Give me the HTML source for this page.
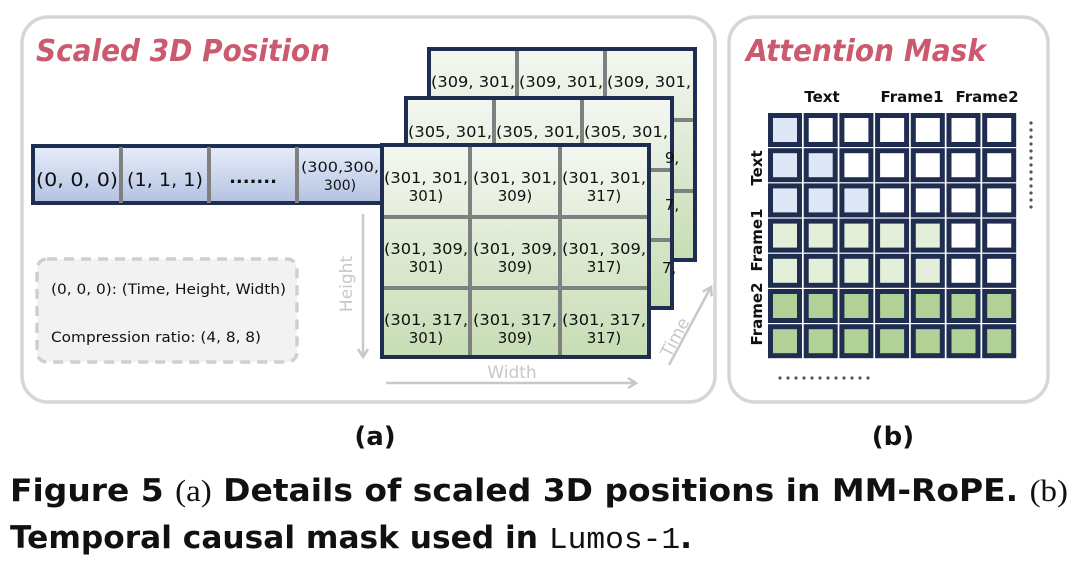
<!DOCTYPE html>
<html><head><meta charset="utf-8"><style>
html,body{margin:0;padding:0;background:#fff;}
svg{display:block;}
text{font-family:"DejaVu Sans","Liberation Sans",sans-serif;}
</style></head><body>
<svg width="1080" height="577" viewBox="0 0 1080 577" xmlns="http://www.w3.org/2000/svg">
<defs>
<linearGradient id="bl" x1="0" y1="0" x2="0" y2="1"><stop offset="0" stop-color="#e8eef9"/><stop offset="1" stop-color="#b2c2e2"/></linearGradient>
<linearGradient id="gr" x1="0" y1="0" x2="0" y2="1"><stop offset="0" stop-color="#f4f7f1"/><stop offset="1" stop-color="#c6ddb4"/></linearGradient>
<marker id="ah" markerWidth="12" markerHeight="12" refX="9" refY="6" orient="auto" markerUnits="userSpaceOnUse"><path d="M1,1 L9,6 L1,11" fill="none" stroke="#c8c8c8" stroke-width="2.5"/></marker>
</defs>
<rect x="22" y="17" width="693" height="385" rx="26" fill="#fff" stroke="#d6d6d6" stroke-width="3.5"/>
<rect x="729" y="17" width="319" height="385" rx="26" fill="#fff" stroke="#d6d6d6" stroke-width="3.5"/>
<text x="36" y="61" font-size="30" font-weight="bold" font-style="italic" fill="#cc5a6e" textLength="294" lengthAdjust="spacingAndGlyphs">Scaled 3D Position</text>
<text x="746" y="61" font-size="30" font-weight="bold" font-style="italic" fill="#cc5a6e" textLength="240" lengthAdjust="spacingAndGlyphs">Attention Mask</text>

<rect x="33" y="146" width="351" height="57" fill="url(#bl)" stroke="#1f2d50" stroke-width="4"/>
<g stroke="#808080" stroke-width="4"><line x1="121" y1="147" x2="121" y2="203"/><line x1="209" y1="147" x2="209" y2="203"/><line x1="297" y1="147" x2="297" y2="203"/></g>
<g fill="#111" text-anchor="middle">
<text x="77" y="186" font-size="19" textLength="82" lengthAdjust="spacingAndGlyphs">(0, 0, 0)</text>
<text x="165" y="186" font-size="19" textLength="76" lengthAdjust="spacingAndGlyphs">(1, 1, 1)</text>
<text x="253" y="183" font-size="18" font-weight="bold">.......</text>
<text x="340" y="172" font-size="14" textLength="78" lengthAdjust="spacingAndGlyphs">(300,300,</text>
<text x="340" y="190" font-size="14">300)</text>
</g>

<g>
<rect x="429" y="49" width="266" height="211" fill="url(#gr)" stroke="#1f2d50" stroke-width="4"/>
<g stroke="#808080" stroke-width="4"><line x1="517" y1="51" x2="517" y2="258"/><line x1="605" y1="51" x2="605" y2="258"/><line x1="431" y1="120" x2="693" y2="120"/><line x1="431" y1="191" x2="693" y2="191"/></g>
<g font-size="15" fill="#111" text-anchor="middle"><text x="473" y="87" textLength="84" lengthAdjust="spacingAndGlyphs">(309, 301,</text><text x="561" y="87" textLength="84" lengthAdjust="spacingAndGlyphs">(309, 301,</text><text x="649" y="87" textLength="84" lengthAdjust="spacingAndGlyphs">(309, 301,</text></g>
</g>
<g>
<rect x="406" y="98" width="266" height="210" fill="url(#gr)" stroke="#1f2d50" stroke-width="4"/>
<g stroke="#808080" stroke-width="4"><line x1="494" y1="100" x2="494" y2="306"/><line x1="582" y1="100" x2="582" y2="306"/><line x1="408" y1="170" x2="670" y2="170"/><line x1="408" y1="240" x2="670" y2="240"/></g>
<g font-size="15" fill="#111" text-anchor="middle"><text x="450" y="137" textLength="84" lengthAdjust="spacingAndGlyphs">(305, 301,</text><text x="538" y="137" textLength="84" lengthAdjust="spacingAndGlyphs">(305, 301,</text><text x="626" y="137" textLength="84" lengthAdjust="spacingAndGlyphs">(305, 301,</text>
<text x="672" y="163">9,</text><text x="672" y="210">7,</text><text x="669" y="273">7,</text></g>
</g>
<g>
<rect x="382" y="145" width="267" height="212" fill="url(#gr)" stroke="#1f2d50" stroke-width="4"/>
<g stroke="#808080" stroke-width="4"><line x1="470" y1="147" x2="470" y2="355"/><line x1="560" y1="147" x2="560" y2="355"/><line x1="384" y1="217" x2="647" y2="217"/><line x1="384" y1="288" x2="647" y2="288"/></g>
<g font-size="15" fill="#111" text-anchor="middle">
<text x="426" y="183" textLength="84" lengthAdjust="spacingAndGlyphs">(301, 301,</text><text x="426" y="201">301)</text>
<text x="515" y="183" textLength="84" lengthAdjust="spacingAndGlyphs">(301, 301,</text><text x="515" y="201">309)</text>
<text x="604" y="183" textLength="84" lengthAdjust="spacingAndGlyphs">(301, 301,</text><text x="604" y="201">317)</text>
<text x="426" y="254" textLength="84" lengthAdjust="spacingAndGlyphs">(301, 309,</text><text x="426" y="272">301)</text>
<text x="515" y="254" textLength="84" lengthAdjust="spacingAndGlyphs">(301, 309,</text><text x="515" y="272">309)</text>
<text x="604" y="254" textLength="84" lengthAdjust="spacingAndGlyphs">(301, 309,</text><text x="604" y="272">317)</text>
<text x="426" y="325" textLength="84" lengthAdjust="spacingAndGlyphs">(301, 317,</text><text x="426" y="343">301)</text>
<text x="515" y="325" textLength="84" lengthAdjust="spacingAndGlyphs">(301, 317,</text><text x="515" y="343">309)</text>
<text x="604" y="325" textLength="84" lengthAdjust="spacingAndGlyphs">(301, 317,</text><text x="604" y="343">317)</text>
</g>
</g>

<line x1="363" y1="214" x2="363" y2="357" stroke="#c8c8c8" stroke-width="2.5" marker-end="url(#ah)"/>
<text x="0" y="0" font-size="17" fill="#c8c8c8" text-anchor="middle" transform="translate(352,284) rotate(-90)">Height</text>
<line x1="386" y1="383" x2="636" y2="383" stroke="#c8c8c8" stroke-width="2.5" marker-end="url(#ah)"/>
<text x="512" y="378" font-size="17" fill="#c8c8c8" text-anchor="middle">Width</text>
<line x1="669" y1="365" x2="711" y2="287" stroke="#c8c8c8" stroke-width="2.5" marker-end="url(#ah)"/>
<text x="0" y="0" font-size="17" fill="#c8c8c8" text-anchor="middle" transform="translate(680,340) rotate(-62)">Time</text>

<rect x="37" y="259" width="260" height="103" rx="10" fill="#f2f2f2" stroke="#cfcfcf" stroke-width="3.5" stroke-dasharray="10,7"/>
<text x="51" y="294" font-size="14" fill="#111" textLength="235" lengthAdjust="spacingAndGlyphs">(0, 0, 0): (Time, Height, Width)</text>
<text x="51" y="342" font-size="14" fill="#111" textLength="210" lengthAdjust="spacingAndGlyphs">Compression ratio: (4, 8, 8)</text>

<g font-size="15" fill="#111" font-weight="bold">
<text x="822" y="102" text-anchor="middle">Text</text>
<text x="912" y="102" text-anchor="middle">Frame1</text>
<text x="987" y="102" text-anchor="middle">Frame2</text>
<text transform="translate(762,168) rotate(-90)" text-anchor="middle">Text</text>
<text transform="translate(762,240) rotate(-90)" text-anchor="middle">Frame1</text>
<text transform="translate(762,314) rotate(-90)" text-anchor="middle">Frame2</text>
</g>
<g id="mask"></g>
<g fill="#555">
<circle cx="1031" cy="123" r="1.6"/><circle cx="1031" cy="130" r="1.6"/><circle cx="1031" cy="137" r="1.6"/><circle cx="1031" cy="144" r="1.6"/><circle cx="1031" cy="151" r="1.6"/><circle cx="1031" cy="158" r="1.6"/><circle cx="1031" cy="165" r="1.6"/><circle cx="1031" cy="172" r="1.6"/><circle cx="1031" cy="179" r="1.6"/><circle cx="1031" cy="186" r="1.6"/><circle cx="1031" cy="193" r="1.6"/><circle cx="1031" cy="200" r="1.6"/><circle cx="1031" cy="207" r="1.6"/>
<circle cx="780" cy="378" r="1.6"/><circle cx="788" cy="378" r="1.6"/><circle cx="796" cy="378" r="1.6"/><circle cx="804" cy="378" r="1.6"/><circle cx="812" cy="378" r="1.6"/><circle cx="820" cy="378" r="1.6"/><circle cx="828" cy="378" r="1.6"/><circle cx="836" cy="378" r="1.6"/><circle cx="844" cy="378" r="1.6"/><circle cx="852" cy="378" r="1.6"/><circle cx="860" cy="378" r="1.6"/><circle cx="868" cy="378" r="1.6"/>
</g>

<text x="375" y="445" font-size="26" font-weight="bold" fill="#111" text-anchor="middle">(a)</text>
<text x="893" y="445" font-size="26" font-weight="bold" fill="#111" text-anchor="middle">(b)</text>
<text x="10" y="501" font-size="31" font-weight="bold" fill="#111" textLength="1058" lengthAdjust="spacingAndGlyphs">Figure 5  <tspan font-family="Liberation Serif,serif" font-weight="normal">(a)</tspan> Details of scaled 3D positions in MM-RoPE. <tspan font-family="Liberation Serif,serif" font-weight="normal">(b)</tspan></text>
<text x="10" y="548" font-size="31" font-weight="bold" fill="#111" textLength="682" lengthAdjust="spacingAndGlyphs">Temporal causal mask used in <tspan font-family="Liberation Mono,monospace" font-weight="normal">Lumos-1</tspan>.</text>
</svg>
<script>
(function(){
var g=document.getElementById('mask'),h='';
for(var i=0;i<7;i++)for(var j=0;j<7;j++){
var x=768+j*35.7,y=113+i*35.2,f='#ffffff';
if(i<3){if(j<=i)f='#dde7f5';}
else if(i<5){if(j<5)f='#e3efd9';}
else f='#b1d196';
h+='<rect x="'+(x+2.5)+'" y="'+(y+2.5)+'" width="29" height="29" fill="'+f+'" stroke="#1f2d50" stroke-width="5"/>';
}
g.innerHTML=h;
})();
</script>
</body></html>
